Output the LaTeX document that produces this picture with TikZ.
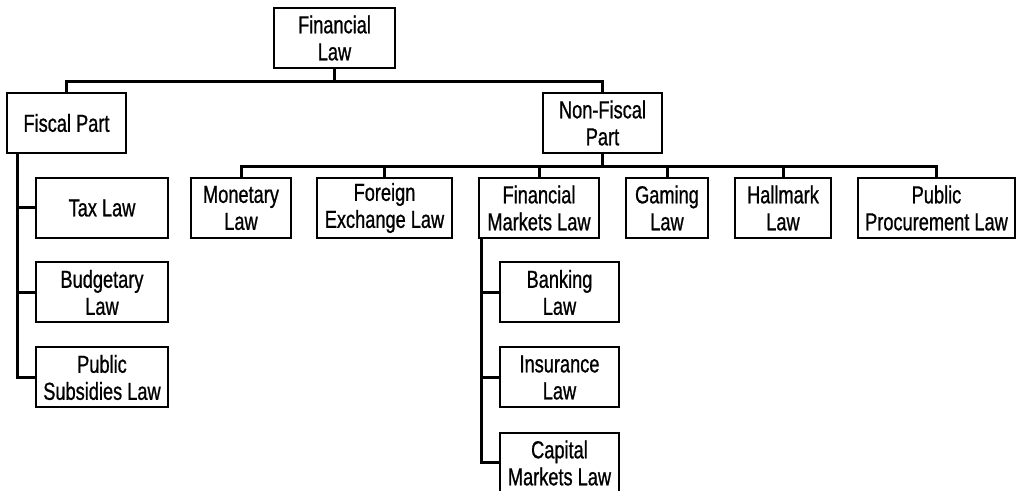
\documentclass[tikz,border=0pt]{standalone}
\usepackage{fontspec}
\setmainfont{Liberation Sans}[FakeStretch=0.74,FakeBold=0.8]
\usetikzlibrary{calc}
\tikzset{
  lawbox/.style={draw, line width=1pt, align=center, inner sep=1pt,
    minimum height=30pt, font=\fontsize{12.3}{13.5}\selectfont},
  link/.style={line width=1.5pt}
}

\begin{document}
\begin{tikzpicture}[x=0.5pt,y=-0.5pt]
\useasboundingbox (0,0) rectangle (1024,491);
% top level
\node[lawbox, minimum width=60.5pt] (fin) at (334.5,38) {Financial\\Law};
\node[lawbox, minimum width=59.5pt] (fiscal) at (66.5,123) {Fiscal Part};
\node[lawbox, minimum width=59.5pt] (nonfiscal) at (602.5,123) {Non-Fiscal\\Part};
% fiscal part
\node[lawbox, minimum width=66pt] (tax) at (102,208) {Tax Law};
\node[lawbox, minimum width=66pt] (budget) at (102,292.5) {Budgetary\\Law};
\node[lawbox, minimum width=66pt] (subsid) at (102,377.5) {Public\\Subsidies Law};
% non-fiscal part
\node[lawbox, minimum width=50pt] (monetary) at (241,208) {Monetary\\Law};
\node[lawbox, minimum width=67.5pt] (foreign) at (384.5,208) {Foreign\\Exchange Law};
\node[lawbox, minimum width=60pt] (finmark) at (539,208) {Financial\\Markets Law};
\node[lawbox, minimum width=41pt] (gaming) at (667,208) {Gaming\\Law};
\node[lawbox, minimum width=48pt] (hallmark) at (783,208) {Hallmark\\Law};
\node[lawbox, minimum width=78.5pt] (procure) at (936.5,208) {Public\\Procurement Law};
% financial markets
\node[lawbox, minimum width=59.5pt] (banking) at (559.5,292.5) {Banking\\Law};
\node[lawbox, minimum width=59.5pt] (insur) at (559.5,377.5) {Insurance\\Law};
\node[lawbox, minimum width=59.5pt] (capital) at (559.5,463) {Capital\\Markets Law};

% connectors
\foreach \n in {fiscal,nonfiscal}
  \draw[link] (fin.south) -- ++(0,13) -| (\n.north);
\foreach \n in {monetary,foreign,finmark,gaming,hallmark,procure}
  \draw[link] (nonfiscal.south) -- ++(0,12.5) -| (\n.north);
\coordinate (fiscaltrunk) at ([xshift=5.5pt]fiscal.south west);
\foreach \n in {tax,budget,subsid}
  \draw[link] (fiscaltrunk) |- (\n.west);
\coordinate (fmtrunk) at ([xshift=1.5pt]finmark.south west);
\foreach \n in {banking,insur,capital}
  \draw[link] (fmtrunk) |- (\n.west);
\end{tikzpicture}
\end{document}
